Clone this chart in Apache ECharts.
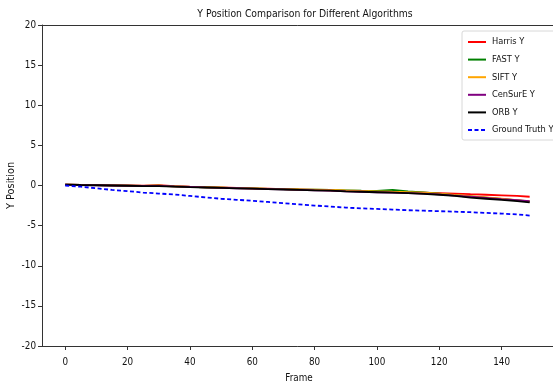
<!DOCTYPE html>
<html>
<head>
<meta charset="utf-8">
<script src="https://cdn.jsdelivr.net/npm/echarts@6/dist/echarts.min.js"></script>
<style>
  html, body { margin: 0; padding: 0; background: #fff; }
  #chart { width: 553px; height: 385px; }
</style>
</head>
<body>
<div id="chart"></div>
<script>
// frames sampled along the x axis
const frames = [0, 5, 10, 15, 20, 25, 30, 35, 40, 45, 50, 55, 60, 65, 70, 75,
                80, 85, 90, 95, 100, 105, 110, 115, 120, 125, 130, 135, 140, 145, 149]

const harrisY = [0.1, 0.08, 0.05, 0.02, 0.0, -0.02, 0.04, -0.08, -0.15, -0.2, -0.25, -0.3, -0.35, -0.4, -0.45, -0.5,
                 -0.55, -0.6, -0.66, -0.72, -0.77, -0.8, -0.85, -0.9, -0.95, -1.0, -1.08, -1.15, -1.22, -1.3, -1.4]
const fastY = [0.1, 0.07, 0.04, 0.01, -0.02, -0.05, -0.02, -0.1, -0.17, -0.22, -0.27, -0.32, -0.37, -0.42, -0.46, -0.5,
               -0.52, -0.55, -0.6, -0.65, -0.68, -0.55, -0.75, -0.85, -1.0, -1.2, -1.35, -1.5, -1.68, -1.85, -2.0]
const siftY = [0.1, 0.07, 0.04, 0.01, -0.02, -0.05, -0.03, -0.1, -0.17, -0.22, -0.27, -0.32, -0.37, -0.42, -0.46, -0.5,
               -0.52, -0.56, -0.62, -0.67, -0.72, -0.78, -0.83, -0.9, -1.0, -1.18, -1.33, -1.48, -1.65, -1.82, -1.97]
const censureY = [0.1, 0.06, 0.03, 0.0, -0.03, -0.06, -0.05, -0.12, -0.18, -0.24, -0.29, -0.34, -0.39, -0.44, -0.49, -0.54,
                  -0.6, -0.65, -0.74, -0.78, -0.84, -0.88, -0.94, -1.0, -1.1, -1.25, -1.4, -1.55, -1.7, -1.82, -1.95]
const orbY = [0.1, 0.06, 0.03, 0.0, -0.03, -0.07, -0.08, -0.13, -0.2, -0.25, -0.3, -0.35, -0.4, -0.45, -0.5, -0.55,
              -0.6, -0.65, -0.72, -0.78, -0.84, -0.9, -0.96, -1.05, -1.15, -1.3, -1.5, -1.65, -1.8, -1.95, -2.1]
const groundTruthY = [0.0, -0.15, -0.35, -0.55, -0.7, -0.88, -1.0, -1.12, -1.3, -1.48, -1.65, -1.78, -1.9, -2.05, -2.2, -2.35,
                      -2.5, -2.62, -2.75, -2.85, -2.92, -3.0, -3.08, -3.14, -3.2, -3.26, -3.33, -3.42, -3.5, -3.6, -3.75]

const xTicks = [0, 20, 40, 60, 80, 100, 120, 140]

// the reference text is set in a narrow face
const narrow = '"DejaVu Sans Condensed", "Liberation Sans", sans-serif'

function pairs(ys) {
    return frames.map((f, i) => [f, ys[i]])
}

function lineSeries(name, ys, color, dashed) {
    return {
        name: name,
        type: 'line',
        data: pairs(ys),
        showSymbol: false,
        symbol: 'none',
        silent: true,
        animation: false,
        lineStyle: { color: color, width: 1.8, type: dashed ? [4, 2.5] : 'solid' },
        itemStyle: { color: color }
    }
}

const chart = echarts.init(document.getElementById('chart'))
chart.setOption({
    backgroundColor: '#fff',
    animation: false,
    title: {
        text: 'Y Position Comparison for Different Algorithms',
        left: 300,
        top: 4,
        textAlign: 'center',
        textStyle: { fontFamily: narrow, fontSize: 10.3, fontWeight: 'normal', color: '#111' }
    },
    grid: { left: 42, top: 25, width: 514, height: 321, containLabel: false, outerBoundsMode: 'none' },
    legend: {
        orient: 'vertical',
        left: 462,
        top: 31,
        itemWidth: 18,
        itemHeight: 10,
        itemGap: 7.6,
        padding: [6, 12, 5, 5],
        backgroundColor: '#fff',
        borderColor: '#d8d8d8',
        borderWidth: 1,
        borderRadius: 2,
        itemStyle: { opacity: 0 },
        textStyle: { fontFamily: narrow, fontSize: 9.2, lineHeight: 10, color: '#111', padding: [0, 0, 0, 1] },
        data: ['Harris Y', 'FAST Y', 'SIFT Y', 'CenSurE Y', 'ORB Y', 'Ground Truth Y']
    },
    xAxis: [{
        type: 'value',
        min: -7.45,
        max: 157.45,
        name: 'Frame',
        nameLocation: 'middle',
        nameGap: 27,
        nameMoveOverlap: false,
        nameTextStyle: { fontFamily: narrow, fontSize: 9.8, color: '#111' },
        splitLine: { show: false },
        axisLine: { onZero: false, lineStyle: { color: '#333', width: 1 } },
        axisTick: { customValues: xTicks, length: 4, lineStyle: { color: '#333' } },
        axisLabel: { customValues: xTicks, fontFamily: narrow, fontSize: 9.8, color: '#111', margin: 11 }
    }, {
        type: 'value',
        position: 'top',
        min: -7.45,
        max: 157.45,
        splitLine: { show: false },
        axisLine: { show: true, onZero: false, lineStyle: { color: '#333', width: 1 } },
        axisTick: { show: false },
        axisLabel: { show: false }
    }],
    yAxis: {
        type: 'value',
        min: -20,
        max: 20,
        interval: 5,
        name: 'Y Position',
        nameLocation: 'middle',
        nameGap: 26,
        nameMoveOverlap: false,
        nameTextStyle: { fontFamily: 'DejaVu Sans', fontSize: 9.8, color: '#111' },
        splitLine: { show: false },
        axisLine: { show: true, onZero: false, lineStyle: { color: '#333', width: 1 } },
        axisTick: { show: true, length: 4, lineStyle: { color: '#333' } },
        axisLabel: { fontFamily: narrow, fontSize: 9.8, color: '#111', margin: 6 }
    },
    series: [
        lineSeries('Harris Y', harrisY, '#ff0000', false),
        lineSeries('FAST Y', fastY, '#008000', false),
        lineSeries('SIFT Y', siftY, '#ffa500', false),
        lineSeries('CenSurE Y', censureY, '#800080', false),
        lineSeries('ORB Y', orbY, '#000000', false),
        lineSeries('Ground Truth Y', groundTruthY, '#0000ff', true)
    ]
})
</script>
</body>
</html>
